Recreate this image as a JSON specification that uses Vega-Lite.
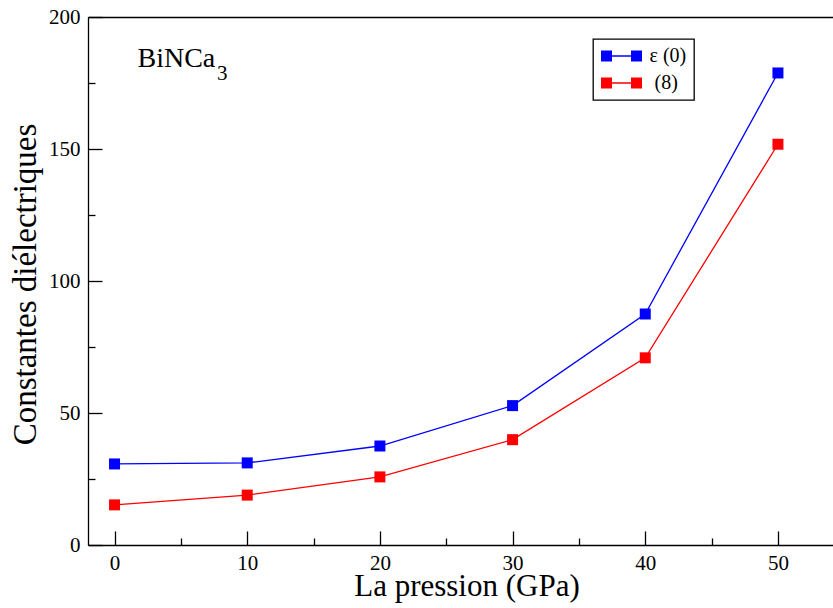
{
  "$schema": "https://vega.github.io/schema/vega-lite/v6.json",
  "width": 745,
  "height": 528,
  "autosize": "none",
  "padding": {"left": 88, "top": 17, "right": 0, "bottom": 63},
  "background": "white",
  "config": {
    "view": {"stroke": null},
    "font": "Liberation Serif",
    "axis": {
      "labelFont": "Liberation Serif",
      "titleFont": "Liberation Serif",
      "labelColor": "#000",
      "titleColor": "#000",
      "titleFontWeight": "normal",
      "domainColor": "#000",
      "domainWidth": 1.3,
      "tickColor": "#000",
      "tickWidth": 1.3,
      "grid": false,
      "labelFlush": false,
      "labelOverlap": false
    },
    "legend": {"labelFont": "Liberation Serif", "labelFontSize": 20, "labelColor": "#000"}
  },
  "resolve": {"axis": {"x": "independent", "y": "independent"}},
  "layer": [
    {
      "data": {"name": "series", "values": [
        {"p": 0, "v": 30.7, "serie": "ε (0)"},
        {"p": 10, "v": 31.1, "serie": "ε (0)"},
        {"p": 20, "v": 37.5, "serie": "ε (0)"},
        {"p": 30, "v": 52.8, "serie": "ε (0)"},
        {"p": 40, "v": 87.5, "serie": "ε (0)"},
        {"p": 50, "v": 178.8, "serie": "ε (0)"},
        {"p": 0, "v": 15.2, "serie": "(8)"},
        {"p": 10, "v": 18.9, "serie": "(8)"},
        {"p": 20, "v": 25.8, "serie": "(8)"},
        {"p": 30, "v": 39.9, "serie": "(8)"},
        {"p": 40, "v": 70.9, "serie": "(8)"},
        {"p": 50, "v": 151.8, "serie": "(8)"}
      ]},
      "mark": {"type": "line", "strokeWidth": 1.3},
      "encoding": {
        "x": {"field": "p", "type": "quantitative",
          "scale": {"domain": [-2, 54.15], "nice": false, "zero": false},
          "axis": {"orient": "bottom", "values": [0, 10, 20, 30, 40, 50], "tickSize": -14, "labels": false, "title": null, "domain": true}},
        "y": {"field": "v", "type": "quantitative",
          "scale": {"domain": [0, 200], "nice": false},
          "axis": {"orient": "left", "values": [0, 50, 100, 150, 200], "tickSize": -14, "labels": false, "title": null, "domain": true}},
        "color": {"field": "serie", "type": "nominal",
          "scale": {"domain": ["ε (0)", "(8)"], "range": ["#0000ff", "#ff0000"]},
          "legend": {
            "orient": "none", "legendX": 505, "legendY": 22,
            "title": null,
            "padding": 7,
            "rowPadding": 7,
            "strokeColor": "#000",
            "fillColor": "#fff",
            "cornerRadius": 0,
            "symbolType": "M-2.05,-0.55H-0.95V0.55H-2.05ZM0.95,-0.55H2.05V0.55H0.95ZM-0.95,-0.07H0.95V0.07H-0.95Z",
            "symbolSize": 400,
            "symbolOffset": 11.5,
            "labelOffset": 18,
            "labelFont": "Liberation Serif",
            "labelFontSize": 20,
            "labelColor": "#000",
            "encode": {
              "symbols": {"update": {"fill": {"scale": "color", "field": "value"}, "stroke": {"value": "transparent"}, "strokeWidth": {"value": 0}, "opacity": {"value": 1}}},
              "labels": {"update": {"font": {"value": "Liberation Serif"}, "dx": {"signal": "datum.value == '(8)' ? 5 : 0"}}},
              "legend": {"update": {"strokeWidth": {"value": 1.3}}}
            }
          }}
      }
    },
    {
      "data": {"name": "series"},
      "mark": {"type": "square", "size": 121, "filled": true, "opacity": 1},
      "encoding": {
        "x": {"field": "p", "type": "quantitative",
          "axis": {"orient": "bottom", "values": [5, 15, 25, 35, 45], "tickSize": -7, "labels": false, "title": null, "domain": false}},
        "y": {"field": "v", "type": "quantitative",
          "axis": {"orient": "left", "values": [25, 75, 125, 175], "tickSize": -7, "labels": false, "title": null, "domain": false}},
        "color": {"field": "serie", "type": "nominal"}
      }
    },
    {
      "data": {"values": [{"x": 1.73, "y": 181.2, "t": "BiNCa"}]},
      "mark": {"type": "text", "align": "left", "baseline": "alphabetic", "font": "Liberation Serif", "fontSize": 28, "color": "#000"},
      "encoding": {
        "x": {"field": "x", "type": "quantitative",
          "axis": {"orient": "bottom", "values": [0, 10, 20, 30, 40, 50], "ticks": false, "domain": false,
            "labelPadding": 7, "labelFontSize": 21, "labelFont": "Liberation Serif",
            "title": "La pression (GPa)", "titleFont": "Liberation Serif", "titleFontSize": 31, "titleX": 378.5, "titleY": 50, "titleBaseline": "alphabetic", "titleAlign": "center", "titleAnchor": null}},
        "y": {"field": "y", "type": "quantitative",
          "axis": {"orient": "left", "values": [0, 50, 100, 150, 200], "ticks": false, "domain": false,
            "labelPadding": 8, "labelFontSize": 21, "labelFont": "Liberation Serif",
            "title": "Constantes diélectriques", "titleFont": "Liberation Serif", "titleFontSize": 33, "titleX": -53, "titleY": 267, "titleAngle": -90, "titleBaseline": "alphabetic", "titleAlign": "center", "titleAnchor": null}},
        "text": {"field": "t"}
      }
    },
    {
      "data": {"values": [{"x": 7.73, "y": 176.1, "t": "3"}]},
      "mark": {"type": "text", "align": "left", "baseline": "alphabetic", "font": "Liberation Serif", "fontSize": 21, "color": "#000"},
      "encoding": {
        "x": {"field": "x", "type": "quantitative",
          "axis": {"orient": "top", "ticks": false, "labels": false, "title": null, "domain": true}},
        "y": {"field": "y", "type": "quantitative", "axis": null},
        "text": {"field": "t"}
      }
    }
  ]
}
